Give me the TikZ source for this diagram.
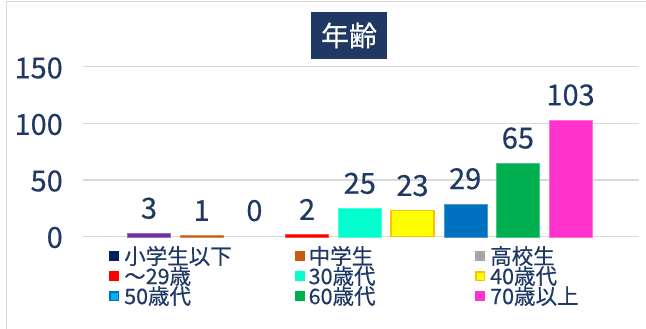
\documentclass[tikz,border=0pt]{standalone}
\usepackage{fontspec}
\setmainfont{Noto Sans CJK JP}[FakeBold=0.4]
\usepackage{tikz}

\definecolor{navytext}{RGB}{31,56,100}
\definecolor{gridgray}{RGB}{217,217,217}
\definecolor{c0}{RGB}{112,48,160}
\definecolor{c1}{RGB}{197,90,17}
\definecolor{c3}{RGB}{255,0,0}
\definecolor{c4}{RGB}{0,255,204}
\definecolor{c5}{RGB}{255,255,0}
\definecolor{c5b}{RGB}{255,192,0}
\definecolor{c6}{RGB}{0,112,192}
\definecolor{c7}{RGB}{0,176,80}
\definecolor{c8}{RGB}{255,51,204}
\definecolor{kid}{RGB}{0,32,96}
\definecolor{high}{RGB}{165,165,165}
\definecolor{fifty}{RGB}{0,176,240}

\tikzset{
  val/.style={text=navytext, font=\fontsize{29}{29}\selectfont, inner sep=0pt},
  axislbl/.style={text=navytext, font=\fontsize{29}{29}\selectfont, inner sep=0pt, anchor=east},
  leg/.style={text=navytext, font=\fontsize{21.5}{21.5}\selectfont, inner sep=0pt, anchor=west},
  mark box/.style={minimum size=10pt, inner sep=0pt},
  grid line/.style={draw=gridgray, line width=1.5pt}
}

\begin{document}
\begin{tikzpicture}[x=1pt,y=-1pt]
  \useasboundingbox (0,0) rectangle (646,329);
  % frame
  \draw[gridgray, line width=1.5pt] (6.5,329) -- (6.5,1.5) -- (646,1.5);

  % title
  \node[fill=navytext, text=white, minimum width=76pt, minimum height=47pt, inner sep=0pt,
        font=\fontsize{28}{28}\selectfont] (title) at (349,35.5) {年齢};

  % grid and axis labels
  \draw[grid line] (83,66.7) -- (639,66.7);
  \draw[grid line] (83,123.3) -- (639,123.3);
  \draw[grid line] (83,180) -- (639,180);
  \draw[grid line] (83,236.7) -- (639,236.7);
  \node[axislbl] (y150) at (63,68) {150};
  \node[axislbl] (y100) at (63,124.5) {100};
  \node[axislbl] (y50) at (63,181) {50};
  \node[axislbl] (y0) at (63,237.5) {0};

  % bars
  \filldraw[fill=c0, draw=c0!70!white] (127.5,236.7) rectangle (170.5,233.3);
  \filldraw[fill=c1, draw=c1!70!white] (180.2,236.7) rectangle (223.2,235.6);
  \filldraw[fill=c3, draw=c3!70!white] (285.6,236.7) rectangle (328.6,234.4);
  \filldraw[fill=c4, draw=c4!70!white] (338.3,236.7) rectangle (381.3,208.4);
  \filldraw[fill=c5, draw=c5b, line width=1.5pt] (391,236.7) rectangle (434,210.6);
  \filldraw[fill=c6, draw=c6!70!white] (443.7,236.7) rectangle (486.7,203.8);
  \filldraw[fill=c7, draw=c7!70!white] (496.4,236.7) rectangle (539.4,163.1);
  \filldraw[fill=c8, draw=c8!70!white] (549.1,236.7) rectangle (592.1,120);

  % values
  \node[val] (v0) at (149,208.3) {3};
  \node[val] (v1) at (201.7,210.6) {1};
  \node[val] (v2) at (254.4,210.6) {0};
  \node[val] (v3) at (307.1,209.4) {2};
  \node[val] (v4) at (359.8,183.4) {25};
  \node[val] (v5) at (412.5,185.6) {23};
  \node[val] (v6) at (465.2,178.8) {29};
  \node[val] (v7) at (517.9,138.1) {65};
  \node[val] (v8) at (570.6,95) {103};

  % legend
  \node[mark box, fill=kid] (m0) at (114,256) {};
  \node[leg] (l0) at (124,256) {小学生以下};
  \node[mark box, fill=c1] (m1) at (300,256) {};
  \node[leg] (l1) at (308.5,256) {中学生};
  \node[mark box, fill=high] (m2) at (480,256) {};
  \node[leg] (l2) at (490,256) {高校生};

  \node[mark box, fill=c3] (m3) at (114,276) {};
  \node[leg] (l3) at (124,276) {～29歳};
  \node[mark box, fill=c4] (m4) at (300,276) {};
  \node[leg] (l4) at (308.5,276) {30歳代};
  \node[mark box, fill=c5, draw=c5b, line width=1.5pt, minimum size=8.5pt] (m5) at (480,276) {};
  \node[leg] (l5) at (490,276) {40歳代};

  \node[mark box, fill=fifty, draw=c6, line width=1.5pt, minimum size=8.5pt] (m6) at (114,296) {};
  \node[leg] (l6) at (124,296) {50歳代};
  \node[mark box, fill=c7] (m7) at (300,296) {};
  \node[leg] (l7) at (308.5,296) {60歳代};
  \node[mark box, fill=c8] (m8) at (480,296) {};
  \node[leg] (l8) at (490,296) {70歳以上};
\end{tikzpicture}
\end{document}
